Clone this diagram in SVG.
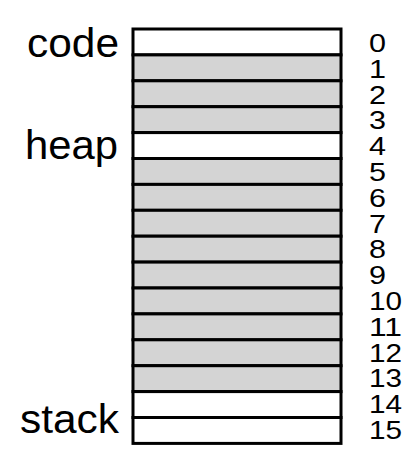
<svg xmlns="http://www.w3.org/2000/svg" width="420" height="468" viewBox="0 0 420 468">
<style>
.row{stroke:#000;stroke-width:3}
.g{fill:#d4d4d4}
.w{fill:#fff}
.lab{font-family:"Liberation Sans",Arial,sans-serif;font-size:40px;fill:#000}
.num{font-family:"Liberation Sans",Arial,sans-serif;font-size:25px;fill:#000}
</style>
<rect width="420" height="468" fill="#fff"/>
<g id="memory">
<rect class="row w" x="133" y="29" width="208" height="25.9"/>
<rect class="row g" x="133" y="54.9" width="208" height="25.9"/>
<rect class="row g" x="133" y="80.8" width="208" height="25.9"/>
<rect class="row g" x="133" y="106.7" width="208" height="25.9"/>
<rect class="row w" x="133" y="132.6" width="208" height="25.9"/>
<rect class="row g" x="133" y="158.5" width="208" height="25.9"/>
<rect class="row g" x="133" y="184.4" width="208" height="25.9"/>
<rect class="row g" x="133" y="210.3" width="208" height="25.9"/>
<rect class="row g" x="133" y="236.2" width="208" height="25.9"/>
<rect class="row g" x="133" y="262.1" width="208" height="25.9"/>
<rect class="row g" x="133" y="288" width="208" height="25.9"/>
<rect class="row g" x="133" y="313.9" width="208" height="25.9"/>
<rect class="row g" x="133" y="339.8" width="208" height="25.9"/>
<rect class="row g" x="133" y="365.7" width="208" height="25.9"/>
<rect class="row w" x="133" y="391.6" width="208" height="25.9"/>
<rect class="row w" x="133" y="417.5" width="208" height="25.9"/>
</g>
<g id="labels">
<text class="lab" x="27" y="57" textLength="92" lengthAdjust="spacingAndGlyphs">code</text>
<text class="lab" x="25" y="159" textLength="93" lengthAdjust="spacingAndGlyphs">heap</text>
<text class="lab" x="20" y="433" textLength="99" lengthAdjust="spacingAndGlyphs">stack</text>
</g>
<g id="addresses">
<text class="num" x="369" y="52" textLength="17" lengthAdjust="spacingAndGlyphs">0</text>
<text class="num" x="369" y="77.8" textLength="17" lengthAdjust="spacingAndGlyphs">1</text>
<text class="num" x="369" y="103.6" textLength="17" lengthAdjust="spacingAndGlyphs">2</text>
<text class="num" x="369" y="129.4" textLength="17" lengthAdjust="spacingAndGlyphs">3</text>
<text class="num" x="369" y="155.2" textLength="17" lengthAdjust="spacingAndGlyphs">4</text>
<text class="num" x="369" y="181" textLength="17" lengthAdjust="spacingAndGlyphs">5</text>
<text class="num" x="369" y="206.8" textLength="17" lengthAdjust="spacingAndGlyphs">6</text>
<text class="num" x="369" y="232.6" textLength="17" lengthAdjust="spacingAndGlyphs">7</text>
<text class="num" x="369" y="258.4" textLength="17" lengthAdjust="spacingAndGlyphs">8</text>
<text class="num" x="369" y="284.2" textLength="17" lengthAdjust="spacingAndGlyphs">9</text>
<text class="num" x="369" y="310" textLength="33" lengthAdjust="spacingAndGlyphs">10</text>
<text class="num" x="369" y="335.8" textLength="33" lengthAdjust="spacingAndGlyphs">11</text>
<text class="num" x="369" y="361.6" textLength="33" lengthAdjust="spacingAndGlyphs">12</text>
<text class="num" x="369" y="387.4" textLength="33" lengthAdjust="spacingAndGlyphs">13</text>
<text class="num" x="369" y="413.2" textLength="33" lengthAdjust="spacingAndGlyphs">14</text>
<text class="num" x="369" y="439" textLength="33" lengthAdjust="spacingAndGlyphs">15</text>
</g>
</svg>
